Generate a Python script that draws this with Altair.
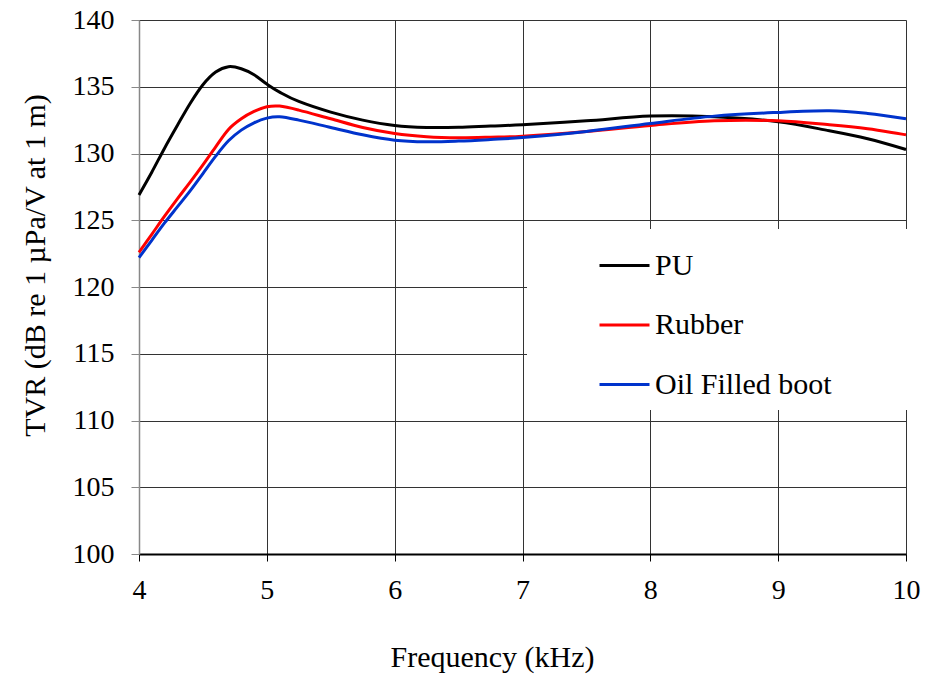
import altair as alt
import pandas as pd

freq = [4.0, 4.1, 4.2, 4.3, 4.4, 4.5, 4.6, 4.7, 4.8, 4.9, 5.0, 5.1, 5.25, 5.5, 5.75,
        6.0, 6.25, 6.5, 6.75, 7.0, 7.5, 8.0, 8.5, 9.0, 9.4, 9.7, 10.0]
pu = [126.9, 128.6, 130.4, 132.1, 133.75, 135.15, 136.1, 136.5, 136.35, 135.9, 135.2,
      134.6, 133.9, 133.1, 132.5, 132.1, 131.95, 131.96, 132.06, 132.15, 132.45, 132.8,
      132.75, 132.38, 131.7, 131.1, 130.3]
rubber = [122.6, 123.95, 125.3, 126.6, 127.85, 129.15, 130.5, 131.8, 132.6, 133.15, 133.5,
          133.55, 133.25, 132.6, 131.95, 131.5, 131.26, 131.18, 131.22, 131.3, 131.65,
          132.1, 132.45, 132.45, 132.15, 131.85, 131.4]
oil = [122.2, 123.5, 124.8, 126.0, 127.2, 128.5, 129.8, 130.95, 131.75, 132.3, 132.65,
       132.75, 132.5, 131.95, 131.4, 131.0, 130.88, 130.93, 131.05, 131.2, 131.65, 132.25,
       132.8, 133.08, 133.2, 133.0, 132.6]

series_names = ["PU", "Rubber", "Oil Filled boot"]
series_colors = ["#000000", "#ff0000", "#0033cc"]
x_ticks = [4, 5, 6, 7, 8, 9, 10]
y_ticks = [100, 105, 110, 115, 120, 125, 130, 135, 140]

rows = []
for name, vals in zip(series_names, [pu, rubber, oil]):
    for f, v in zip(freq, vals):
        rows.append({"Frequency": f, "TVR": v, "Series": name})
df = pd.DataFrame(rows)

FONT = "Liberation Serif, Times New Roman, Times, serif"
pad_chars = "\u2800" * 3

chart = alt.Chart(df).mark_line(strokeWidth=3, interpolate="cardinal").encode(
    x=alt.X("Frequency:Q",
            scale=alt.Scale(domain=[4, 10], nice=False, zero=False),
            axis=alt.Axis(values=x_ticks, title="Frequency (kHz)", grid=True,
                          gridColor="#333333", gridWidth=1, gridOpacity=1,
                          domainColor="#000000", domainWidth=2,
                          tickColor="#000000", tickSize=7, tickWidth=1,
                          labelFont=FONT, labelFontSize=28, labelColor="#000000",
                          labelPadding=15, labelFlush=False,
                          titleFont=FONT, titleFontSize=30, titleFontWeight="normal",
                          titleColor="#000000", titleX=353, titleY=112,
                          titleAlign="center", titleBaseline="alphabetic")),
    y=alt.Y("TVR:Q",
            scale=alt.Scale(domain=[100, 140], nice=False, zero=False),
            axis=alt.Axis(values=y_ticks, title="TVR (dB re 1 µPa/V at 1 m)", grid=True,
                          gridColor="#333333", gridWidth=1, gridOpacity=1,
                          domainColor="#888888", domainWidth=1.5,
                          tickColor="#888888", tickSize=8, tickWidth=1,
                          labelFont=FONT, labelFontSize=28, labelColor="#000000",
                          labelPadding=17, labelFlush=False,
                          titleFont=FONT, titleFontSize=30, titleFontWeight="normal",
                          titleColor="#000000", titleAngle=270, titleX=-95, titleY=245,
                          titleAlign="center", titleBaseline="alphabetic")),
    color=alt.Color("Series:N",
                    scale=alt.Scale(domain=series_names, range=series_colors),
                    sort=series_names,
                    legend=alt.Legend(orient="none", legendX=388, legendY=209,
                                      title=None, fillColor="white", padding=10,
                                      symbolType="stroke", symbolSize=2500,
                                      symbolStrokeWidth=3, symbolOffset=61,
                                      labelFont=FONT, labelFontSize=30,
                                      labelColor="#000000", labelOffset=4,
                                      rowPadding=17.5, labelLimit=400,
                                      labelExpr="datum.label + '" + pad_chars + "'")),
).properties(
    width=767, height=534,
    autosize=alt.AutoSizeParams(type="none"),
    padding={"left": 139, "top": 20, "right": 19, "bottom": 123},
).configure_view(stroke=None).configure(background="white")

chart.save("out.html", embed_options={"renderer": "svg", "actions": False})
